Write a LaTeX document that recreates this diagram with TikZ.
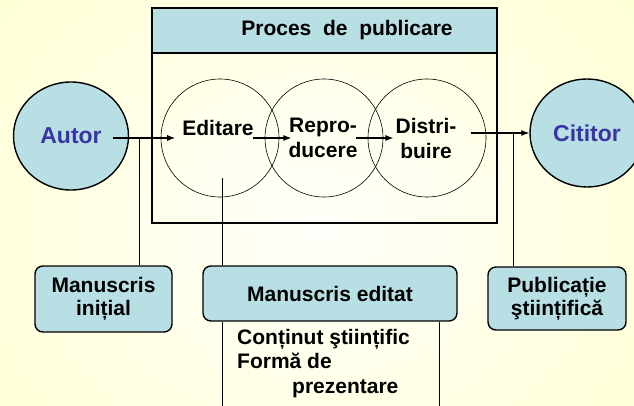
\documentclass[tikz,border=0pt]{standalone}
\usepackage{fontspec}
\setmainfont{Liberation Sans}
\usetikzlibrary{calc}
\usetikzlibrary{shapes}
\usetikzlibrary{arrows.meta}

\definecolor{boxblue}{HTML}{B8DFE3}
\definecolor{namecol}{HTML}{3A35A2}
\definecolor{bgyellow}{HTML}{FFFFC4}
\definecolor{bgwhite}{HTML}{FFFFFA}

\begin{document}
\begin{tikzpicture}[%
  x=1pt, y=-1pt,
  person/.style={ellipse,
                 draw, line width=1.4pt,
                 fill=boxblue, text=namecol,
                 font=\fontsize{23}{26}\selectfont\bfseries
  },
  stage/.style={circle, draw, line width=0.6pt,
                minimum size=118pt, inner sep=0pt
  },
  txt/.style={inner sep=2pt, align=center,
              font=\fontsize{21}{25}\selectfont\bfseries
  },
  doc/.style={rectangle, rounded corners=8pt,
              draw, line width=1.4pt, fill=boxblue,
              align=center, inner sep=2pt,
              font=\fontsize{21}{23}\selectfont\bfseries
  },
  arr/.style={-{Latex[length=8pt,width=6pt]}, line width=1.1pt},
  link/.style={line width=0.7pt}
]
\useasboundingbox (0,0) rectangle (634,406);
\begin{scope}
  \clip (0,0) rectangle (634,406);
  \shade [inner color=bgwhite, outer color=bgyellow] (-300,-300) rectangle (934,750);
\end{scope}

% publishing process frame
\node [draw, line width=1.6pt, fill=boxblue, anchor=north west,
   minimum width=345pt, minimum height=45pt] (head) at (151,7) {};
\node [draw, line width=1.8pt, anchor=north west,
   minimum width=345pt, minimum height=215pt] (frame) at (151,7) {};
\node [txt] (proc) at (347,30) {Proces\ \ de\ \ publicare};

\node [stage] (edc) at (220,138) {};
\node [stage] (repc) at (324,138) {};
\node [stage] (disc) at (427,138) {};
\node [txt] (edit) at (218,128) {Editare};
\node [txt] (repro) at (323,138) {Repro-\\ducere};
\node [txt] (distr) at (426,138) {Distri-\\buire};

% author and reader
\node [person, minimum width=115pt, minimum height=108pt] (autor) at (71,136) {Autor};
\node [person, minimum width=114pt, minimum height=108pt] (citit) at (587,133) {Cititor};

\coordinate (aout) at (113,138);
\draw [arr, shorten >=5pt] (aout) -- (aout -| edit.west);
\draw [arr, shorten <=-3pt, shorten >=-5pt] (edit.east |- aout) -- (repro.west |- aout);
\draw [arr, shorten <=-4pt] (repro.east |- aout) -- (distr.west |- aout);
\draw [arr, shorten <=12pt] (distr.east |- citit.west) -- (citit.west);

% documents
\node [doc, minimum width=137pt, minimum height=66pt] (mi) at (103.5,299) {Manuscris\\ini\char"021B ial};
\node [doc, minimum width=254pt, minimum height=55pt] (me) at (330,293.5) {Manuscris editat};
\node [doc, minimum width=138pt, minimum height=63pt] (pub) at (557,298.5) {Publica\char"021B ie\\\char"015F tiin\char"021B ific\char"0103};

\coordinate (j1) at (139,138);
\coordinate (j2) at (222,178);
\coordinate (j3) at (513,133);
\draw [link] (j1) -- (j1 |- mi.north);
\draw [link] (j2) -- (j2 |- me.north);
\draw [link] (j3) -- (j3 |- pub.north);
\draw [link] (me.south -| j2) -- ++(0,90);
\draw [link] ($(me.south east)+(-18,0)$) -- ++(0,90);

\node [txt, align=left, anchor=north west, inner sep=0pt,
   font=\fontsize{21}{24.5}\selectfont\bfseries] (cont) at (237,329) {
   Con\char"021B inut \char"015F tiin\char"021B ific\\
   Form\char"0103{} de\\
   \hspace*{55pt}prezentare
};
\end{tikzpicture}
\end{document}
